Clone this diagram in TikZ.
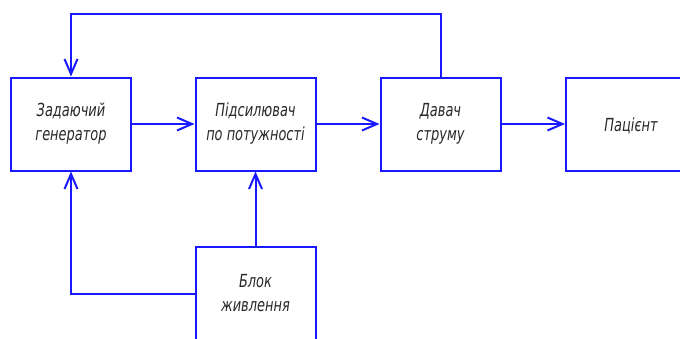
\documentclass[tikz,border=0pt]{standalone}
\usepackage{fontspec}
\newfontfamily\gost{DejaVu Sans}[FakeStretch=0.72]
\usetikzlibrary{arrows.meta}
\definecolor{lineblue}{RGB}{25,25,255}
\definecolor{txt}{RGB}{40,40,40}
\tikzset{
  blk/.style={draw=lineblue, line width=2pt, minimum width=120pt, minimum height=93pt,
    inner sep=0pt, align=center, text=txt,
    font=\gost\itshape\fontsize{18}{24}\selectfont},
  conn/.style={draw=lineblue, line width=2pt},
  arr/.style={conn, -{Straight Barb[length=15pt,width=13pt,line width=2pt]}}
}
\begin{document}
\begin{tikzpicture}[x=1pt,y=-1pt]
\useasboundingbox (0,0) rectangle (680,338);
\node[blk] (b1) at (71,124) {Задаючий\\генератор};
\node[blk] (b2) at (255.5,124) {Підсилювач\\по потужності};
\node[blk] (b3) at (440.5,124) {Давач\\струму};
\node[blk, minimum width=122pt] (b4) at (627,124) {};
\node[text=txt, font=\gost\itshape\fontsize{18}{24}\selectfont] (t4) at (631,126) {Пацієнт};
\node[blk] (b5) at (255.5,293.5) {Блок\\живлення};
\coordinate (top) at (0,13.7);
\draw[arr] (b1.east) -- (b2.west);
\draw[arr] (b2.east) -- (b3.west);
\draw[arr] (b3.east) -- (b4.west);
\draw[arr] (b3.north) -- (b3.north |- top) -| (b1.north);
\draw[arr] (b5.west) -| (b1.south);
\draw[arr] (b5.north) -- (b2.south);
\end{tikzpicture}
\end{document}
